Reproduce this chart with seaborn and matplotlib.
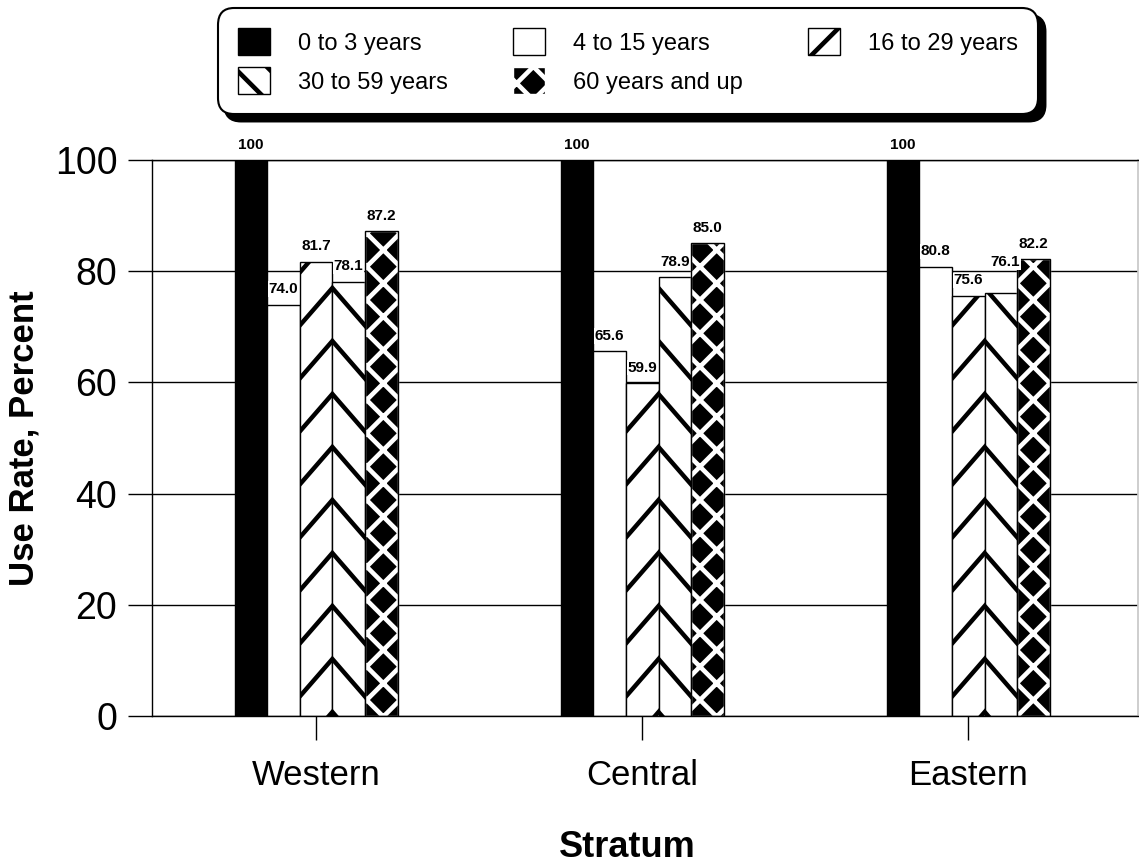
import numpy as np
import pandas as pd
import seaborn as sns
import matplotlib.pyplot as plt
from matplotlib.lines import Line2D
from matplotlib.patches import Patch, Rectangle
from matplotlib.transforms import IdentityTransform

# ---- data ----
strata = ["Western", "Central", "Eastern"]
age_groups = ["0 to 3 years", "4 to 15 years", "16 to 29 years",
              "30 to 59 years", "60 years and up"]
rate_0_3 = [100, 100, 100]
rate_4_15 = [74.0, 65.6, 80.8]
rate_16_29 = [81.7, 59.9, 75.6]
rate_30_59 = [78.1, 78.9, 76.1]
rate_60_up = [87.2, 85.0, 82.2]
y_ticks = [0, 20, 40, 60, 80, 100]

sns.set_theme(style="white")
plt.rcParams['font.family'] = ['Liberation Sans', 'DejaVu Sans']
plt.rcParams['text.color'] = 'black'
plt.rcParams['axes.labelcolor'] = 'black'
plt.rcParams['xtick.color'] = 'black'
plt.rcParams['ytick.color'] = 'black'
plt.rcParams['hatch.linewidth'] = 3.3
plt.rcParams['hatch.color'] = 'white'

rows = []
for age, vals in zip(age_groups, [rate_0_3, rate_4_15, rate_16_29, rate_30_59, rate_60_up]):
    for s, v in zip(strata, vals):
        rows.append([s, age, v])
df = pd.DataFrame(rows, columns=['stratum', 'age', 'rate'])

W, H = 1139, 865
fig = plt.figure(figsize=(W / 100, H / 100), dpi=100)
ax = fig.add_axes([152 / W, 1 - 716 / H, 986 / W, 556 / H])

palette = {age_groups[0]: 'black', age_groups[1]: 'white', age_groups[2]: 'white',
           age_groups[3]: 'white', age_groups[4]: 'black'}
sns.barplot(data=df, x='stratum', y='rate', hue='age', order=strata,
            hue_order=age_groups, palette=palette, width=0.5, saturation=1,
            edgecolor='black', linewidth=1, errorbar=None, legend=False,
            ax=ax, zorder=2)

ax.set_xlim(-0.503, 2.52)
ax.set_ylim(0, 100)
ax.set_yticks(y_ticks)
ax.set_axisbelow(True)
ax.yaxis.grid(True, color='black', linewidth=1)
ax.xaxis.grid(False)
for side in ['left', 'bottom', 'top']:
    ax.spines[side].set_color('black')
    ax.spines[side].set_linewidth(1)
ax.spines['right'].set_color('#c8c8c8')
ax.tick_params(axis='both', direction='out', length=17, width=1, color='black',
               left=True, bottom=True)
ax.tick_params(axis='y', labelsize=27, pad=8)
ax.tick_params(axis='x', labelsize=25, pad=14)

ax.set_xlabel('Stratum', fontsize=26, fontweight='bold')
ax.set_ylabel('Use Rate, Percent', fontsize=25, fontweight='bold')
ax.xaxis.set_label_coords(0.482, -0.205)
ax.yaxis.set_label_coords(-0.113, 0.5)

# ---- fill patterns ----
conts = ax.containers
y_base = ax.transData.transform((0, 0))[1]
gap, slope = 53, 1.15


def stripes(patch, edge_x, sign):
    bb = patch.get_window_extent()
    for k in range(-2, 14):
        c = y_base + 4 + k * gap
        xs = np.array([bb.x0 - 3, bb.x1 + 3])
        ys = c + sign * slope * (xs - edge_x)
        ln = Line2D(xs, ys, transform=IdentityTransform(), color='black',
                    linewidth=3.2, zorder=2.1, solid_capstyle='butt')
        ax.add_artist(ln)
        ln.set_clip_path(patch)


for b16, b30 in zip(conts[2], conts[3]):
    edge = b16.get_window_extent().x1
    stripes(b16, edge, 1)
    stripes(b30, edge, -1)

for b in conts[4]:
    b.set_hatch('x')
    b.set_edgecolor('white')
    ax.add_patch(Rectangle((b.get_x(), b.get_y()), b.get_width(), b.get_height(),
                           fill=False, edgecolor='black', linewidth=1, zorder=2.2))

for i, c in enumerate(conts):
    anns = ax.bar_label(c, fmt=lambda v: '100' if v >= 100 else f'{v:.1f}',
                        padding=6, fontsize=11, fontweight='bold', color='black',
                        bbox=dict(facecolor='white', edgecolor='none', pad=0.5))
    if i == 3:
        # lift the crowded Eastern label as in the original
        anns[2].xyann = (3, 17)

# ---- legend ----
handles = {
    age_groups[0]: Patch(facecolor='black', edgecolor='black'),
    age_groups[1]: Patch(facecolor='white', edgecolor='black'),
    age_groups[2]: Patch(facecolor='white', edgecolor='black', hatch='/'),
    age_groups[3]: Patch(facecolor='white', edgecolor='black', hatch='\\'),
    age_groups[4]: Patch(facecolor='black', edgecolor='white', hatch='x'),
}
order = [age_groups[0], age_groups[3], age_groups[1], age_groups[4], age_groups[2]]
leg = fig.legend([handles[a] for a in order], order, ncol=3, loc='upper center',
                 bbox_to_anchor=(628 / W, 1 - 8 / H), borderaxespad=0, fontsize=17,
                 handlelength=1.36, handleheight=1.4, handletextpad=1.2,
                 columnspacing=2.75, labelspacing=0.5, borderpad=0.85,
                 frameon=True, fancybox=True, framealpha=1, edgecolor='black',
                 shadow={'ox': 5, 'oy': -5, 'color': 'black', 'alpha': 1})
leg.get_frame().set_linewidth(1.5)
leg.get_frame().set_boxstyle('round', pad=0, rounding_size=0.7)

fig.savefig('out.png', dpi=100)
